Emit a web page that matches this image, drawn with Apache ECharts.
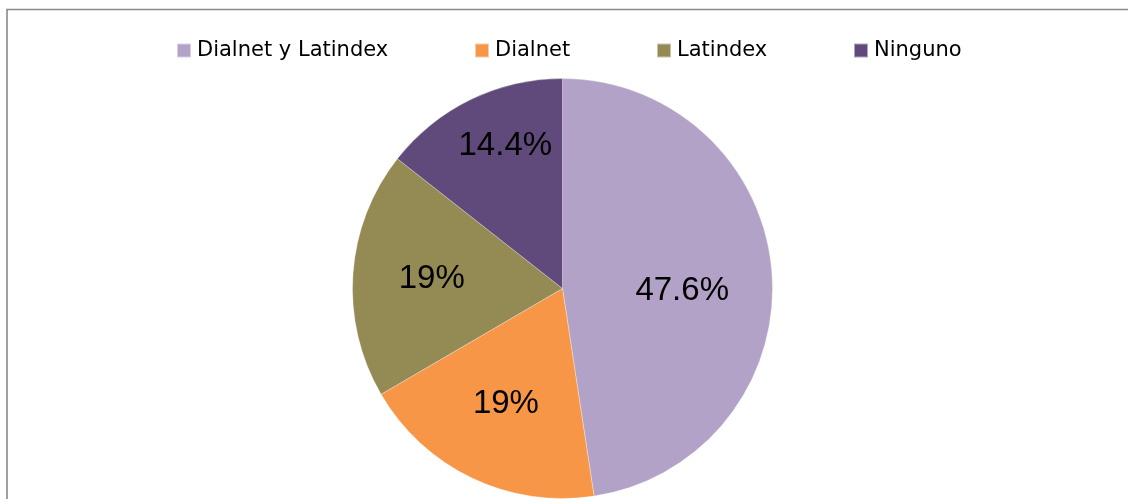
<!DOCTYPE html>
<html>
<head>
<meta charset="utf-8">
<script src="https://cdn.jsdelivr.net/npm/echarts@6/dist/echarts.min.js"></script>
<style>
html,body{margin:0;padding:0;background:#fff;}
#c{width:1128px;height:499px;}
</style>
</head>
<body>
<div id="c"></div>
<script>
// Data
const categories = ['Dialnet y Latindex', 'Dialnet', 'Latindex', 'Ninguno'];
const percentages = [47.6, 19, 19, 14.4];
const labelTexts = ['47.6%', '19%', '19%', '14.4%'];

// Styling
const colors = ['#B3A2C7', '#F79646', '#948A54', '#604A7B'];
const legendLefts = [171, 469, 651, 848];
const labelNudge = [[12, 11], [-10, 18], [-23, -2], [-10, -45]];
const LEGEND_FONT = 'DejaVu Sans';
const LABEL_FONT = 'Liberation Sans';

const chart = echarts.init(document.getElementById('c'), null, {renderer: 'canvas'});

const legends = categories.map((name, i) => ({
  data: [name],
  left: legendLefts[i],
  top: 35,
  itemWidth: 14,
  itemHeight: 14,
  itemGap: 0,
  icon: 'rect',
  selectedMode: false,
  textStyle: {fontFamily: LEGEND_FONT, fontSize: 21, color: '#000', padding: [0, 0, 0, 1]}
}));

const option = {
  animation: false,
  color: colors,
  graphic: [{
    type: 'rect',
    silent: true,
    shape: {x: 7, y: 9.5, width: 1200, height: 600},
    style: {fill: 'none', stroke: '#898989', lineWidth: 1.6},
    z: -1
  }],
  legend: legends,
  series: [{
    type: 'pie',
    center: [562.5, 288.5],
    radius: [0, 210],
    startAngle: 90,
    clockwise: true,
    silent: true,
    itemStyle: {borderColor: 'rgba(255,255,255,0.5)', borderWidth: 0.6},
    label: {
      show: true,
      position: 'inside',
      fontFamily: LABEL_FONT,
      fontSize: 33,
      color: '#000',
      formatter: p => labelTexts[p.dataIndex]
    },
    labelLine: {show: false},
    labelLayout: p => ({dx: labelNudge[p.dataIndex][0], dy: labelNudge[p.dataIndex][1]}),
    data: categories.map((name, i) => ({name, value: percentages[i]}))
  }]
};
chart.setOption(option);
</script>
</body>
</html>
